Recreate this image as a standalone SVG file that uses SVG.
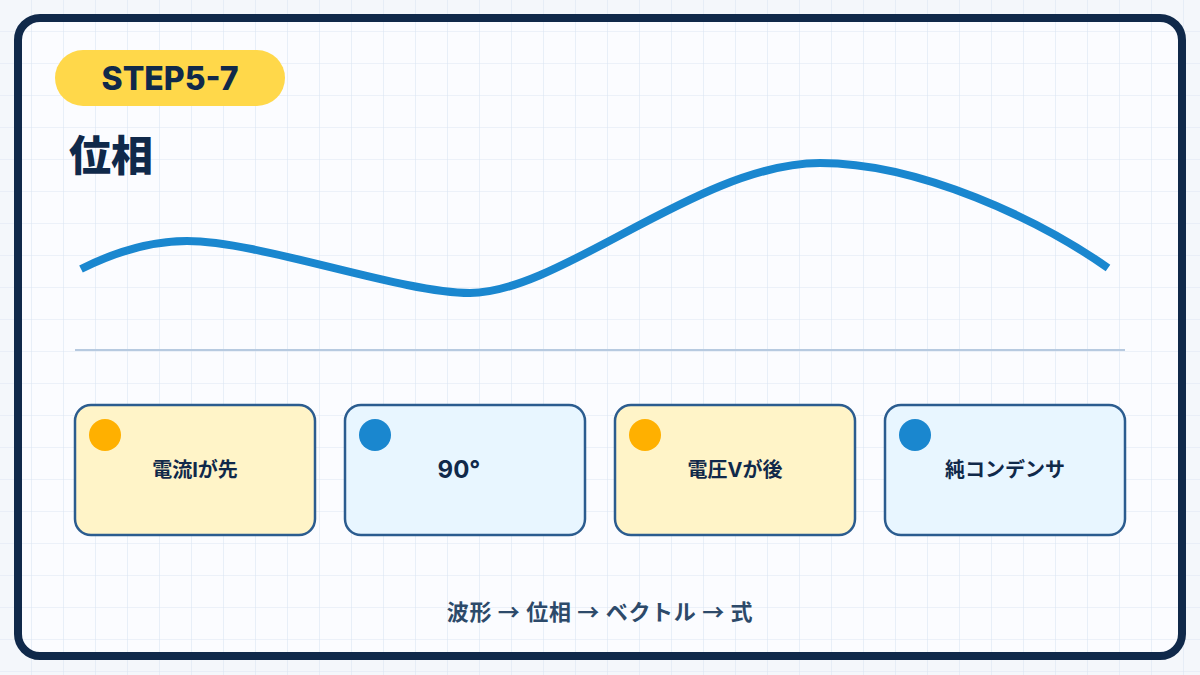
<svg xmlns="http://www.w3.org/2000/svg" width="1200" height="675" viewBox="0 0 1200 675">
  <defs>
    <pattern id="grid" width="32" height="32" patternUnits="userSpaceOnUse">
      <path d="M32 0V32M0 32H32" fill="none" stroke="#dde6f3" stroke-width="1.2"/>
    </pattern>
    <style>
      .t{font-family:"Inter","Noto Sans CJK JP",sans-serif;font-weight:700;fill:#10294a}
      .node rect{stroke:#2b5c8f;stroke-width:2.5}
      .y rect{fill:#fff4c8}
      .b rect{fill:#e8f6ff}
      .y circle{fill:#ffb000}
      .b circle{fill:#1a87cf}
      .lbl{font-size:20px;text-anchor:middle}
    </style>
  </defs>
  <rect width="1200" height="675" fill="#f4f7fb"/>
  <rect x="18" y="18" width="1164" height="638" rx="22" fill="#fbfcff"/>
  <rect width="1200" height="675" fill="url(#grid)"/>
  <rect id="frame" x="18" y="18" width="1164" height="638" rx="22" fill="none" stroke="#10294a" stroke-width="8"/>

  <g id="badge">
    <rect x="55" y="50" width="230" height="56" rx="28" fill="#ffd84a"/>
    <text class="t" x="170" y="90" font-size="32" text-anchor="middle" style="font-weight:800">STEP5-7</text>
  </g>
  <g id="title">
    <text class="t" x="69" y="171" font-size="42" style="font-weight:900">位相</text>
  </g>

  <g id="wave">
    <path d="M81 269 C115 252 150 241 187 241 C260 241 400 293 470 293 C560 293 700 163 820 163 C920 163 1040 220 1108 268" fill="none" stroke="#1a87cf" stroke-width="8"/>
  </g>
  <g id="connectors">
    <line x1="75" y1="350" x2="1125" y2="350" stroke="#b7cae0" stroke-width="2"/>
  </g>

  <g id="n1" class="node y">
    <rect x="75" y="405" width="240" height="130" rx="16"/>
    <circle cx="105" cy="435" r="16"/>
    <text class="t lbl" x="195" y="477">電流Iが先</text>
  </g>
  <g id="n2" class="node b">
    <rect x="345" y="405" width="240" height="130" rx="16"/>
    <circle cx="375" cy="435" r="16"/>
    <text class="t lbl" x="459" y="478" style="font-size:24px">90°</text>
  </g>
  <g id="n3" class="node y">
    <rect x="615" y="405" width="240" height="130" rx="16"/>
    <circle cx="645" cy="435" r="16"/>
    <text class="t lbl" x="735" y="477">電圧Vが後</text>
  </g>
  <g id="n4" class="node b">
    <rect x="885" y="405" width="240" height="130" rx="16"/>
    <circle cx="915" cy="435" r="16"/>
    <text class="t lbl" x="1005" y="477">純コンデンサ</text>
  </g>

  <g id="footer">
    <text x="600" y="620" font-size="22" text-anchor="middle" letter-spacing="0.7" style="font-family:'Noto Sans CJK JP',sans-serif;font-weight:700;fill:#2d4a6a">波形 → 位相 → ベクトル → 式</text>
  </g>
</svg>
